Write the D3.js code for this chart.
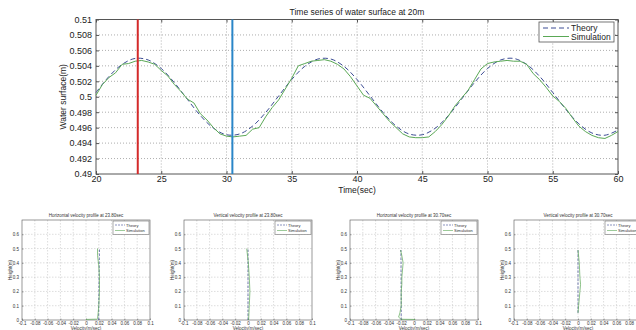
<!DOCTYPE html>
<html>
<head>
<meta charset="UTF-8">
<title>Water surface</title>
<script src="https://d3js.org/d3.v7.min.js"></script>
<style>
  body { margin: 0; background: #fff; }
  svg { display: block; font-family: "Liberation Sans", Arial, sans-serif; }
</style>
</head>
<body>
<svg width="636" height="330"></svg>
<script>
  // time series
  const theoryTime = d3.range(20, 61)
  const theoryEta = [0.50055, 0.50263, 0.50419, 0.50496, 0.50476, 0.50365, 0.50183, 0.49967, 0.49756, 0.49593,
    0.49508, 0.49518, 0.49620, 0.49796, 0.50011, 0.50224, 0.50394, 0.50488, 0.50488, 0.50394,
    0.50224, 0.50011, 0.49796, 0.49620, 0.49518, 0.49508, 0.49593, 0.49756, 0.49967, 0.50183,
    0.50365, 0.50476, 0.50496, 0.50419, 0.50263, 0.50055, 0.49837, 0.49650, 0.49531, 0.49502, 0.49569]

  const simTime = d3.range(20, 60.01, 0.5)
  const simEta = [0.5002, 0.5016, 0.5025, 0.5031, 0.5042, 0.5043, 0.5046, 0.5047, 0.5045, 0.5042,
    0.5034, 0.5027, 0.5016, 0.5007, 0.4997, 0.4992, 0.4978, 0.4970, 0.4960, 0.4952,
    0.4949, 0.4948, 0.4949, 0.4950, 0.4958, 0.4960, 0.4974, 0.4986, 0.4996, 0.5010,
    0.5024, 0.5040, 0.5043, 0.5046, 0.5047, 0.5048, 0.5046, 0.5042, 0.5036, 0.5026,
    0.5014, 0.5002, 0.4998, 0.4988, 0.4978, 0.4968, 0.4960, 0.4952, 0.4948, 0.4947,
    0.4947, 0.4948, 0.4955, 0.4964, 0.4975, 0.4988, 0.4998, 0.5008, 0.5022, 0.5036,
    0.5043, 0.5045, 0.5046, 0.5047, 0.5046, 0.5046, 0.5042, 0.5030, 0.5022, 0.5012,
    0.5001, 0.4994, 0.4985, 0.4973, 0.4962, 0.4955, 0.4950, 0.4947, 0.4946, 0.4950, 0.4955]

  const markTimes = [23.2, 30.45]
  const markColors = ['#d42a2a', '#2a86c8']
  const xTicks = [20, 25, 30, 35, 40, 45, 50, 55, 60]
  const yTicks = d3.range(0.49, 0.5101, 0.002)

  // velocity profiles
  const profileTitles = ['Horizontal velocity profile at 23.80sec', 'Vertical velocity profile at 23.80sec',
    'Horizontal velocity profile at 30.70sec', 'Vertical velocity profile at 30.70sec']
  const theoryZ = [
    [0, 0.1, 0.2, 0.3, 0.4, 0.5],
    [0, 0.1, 0.2, 0.3, 0.4, 0.5],
    [0, 0.1, 0.2, 0.3, 0.4, 0.49],
    [0.05, 0.1, 0.2, 0.3, 0.4, 0.49]
  ]
  const theoryVel = [
    [0.0198, 0.0200, 0.0202, 0.0204, 0.0207, 0.0211],
    [0, 0, 0, 0, 0, 0],
    [-0.0200, -0.0200, -0.0201, -0.0202, -0.0203, -0.0205],
    [0, 0, 0, 0, 0, 0]
  ]
  const simZ = [
    [0.004, 0.006, 0.01, 0.05, 0.1, 0.2, 0.3, 0.38, 0.45, 0.5],
    [0, 0.1, 0.2, 0.3, 0.4, 0.5],
    [0.004, 0.005, 0.02, 0.05, 0.1, 0.2, 0.25, 0.3, 0.35, 0.4, 0.45, 0.49],
    [0.05, 0.1, 0.2, 0.25, 0.3, 0.4, 0.49]
  ]
  const simVel = [
    [0.0, 0.017, 0.018, 0.019, 0.020, 0.021, 0.021, 0.020, 0.018, 0.018],
    [0.001, 0.002, 0.003, 0.002, 0.0005, -0.002],
    [0.002, -0.020, -0.024, -0.022, -0.020, -0.020, -0.019, -0.019, -0.018, -0.017, -0.019, -0.021],
    [0, 0.001, 0.003, 0.004, 0.003, 0.002, 0]
  ]
  const velTicks = [-0.1, -0.08, -0.06, -0.04, -0.02, 0, 0.02, 0.04, 0.06, 0.08, 0.1]
  const zTicks = [0, 0.1, 0.2, 0.3, 0.4, 0.5, 0.6]

  const theoryColor = '#3c4c94'
  const simColor = '#5aa855'
  const boxColor = '#555'
  const gridColor = '#999'

  const svg = d3.select('svg')

  // ---------- main chart ----------
  const m = { left: 96, right: 618, top: 19.5, bottom: 174 }
  const x = d3.scaleLinear().domain([20, 60]).range([m.left, m.right])
  const y = d3.scaleLinear().domain([0.49, 0.51]).range([m.bottom, m.top])

  const main = svg.append('g')

  // grid
  main.append('g').selectAll('line')
    .data(xTicks.slice(1, -1))
    .join('line')
    .attr('x1', d => x(d)).attr('x2', d => x(d))
    .attr('y1', m.top).attr('y2', m.bottom)
    .attr('stroke', gridColor).attr('stroke-width', 0.8).attr('stroke-dasharray', '1,2')
  main.append('g').selectAll('line')
    .data(yTicks.slice(1, -1))
    .join('line')
    .attr('x1', m.left).attr('x2', m.right)
    .attr('y1', d => y(d)).attr('y2', d => y(d))
    .attr('stroke', gridColor).attr('stroke-width', 0.8).attr('stroke-dasharray', '1,2')

  // axes
  main.append('g')
    .attr('transform', `translate(0,${m.bottom})`)
    .call(d3.axisBottom(x).tickValues(xTicks).tickSize(-3).tickPadding(2).tickFormat(d3.format('d')))
  main.append('g')
    .attr('transform', `translate(${m.left},0)`)
    .call(d3.axisLeft(y).tickValues(yTicks).tickSize(-3).tickPadding(4).tickFormat(d => +d.toFixed(3)))
  main.append('g')
    .attr('transform', `translate(${m.right},0)`)
    .call(d3.axisRight(y).tickValues(yTicks).tickSize(-3).tickFormat(''))
  main.append('g')
    .attr('transform', `translate(0,${m.top})`)
    .call(d3.axisTop(x).tickValues(xTicks).tickSize(-3).tickFormat(''))
  main.selectAll('.domain').remove()
  main.selectAll('.tick line').attr('stroke', boxColor)
  main.selectAll('.tick text').attr('font-size', 9).attr('fill', '#222')
  main.append('rect')
    .attr('x', m.left).attr('y', m.top)
    .attr('width', m.right - m.left).attr('height', m.bottom - m.top)
    .attr('fill', 'none').attr('stroke', boxColor).attr('stroke-width', 1)

  // curves
  main.append('path')
    .attr('d', d3.line().x(d => x(d[0])).y(d => y(d[1])).curve(d3.curveCatmullRom)(theoryTime.map((t, i) => [t, theoryEta[i]])))
    .attr('fill', 'none').attr('stroke', theoryColor).attr('stroke-width', 1)
    .attr('stroke-dasharray', '5,3')
  main.append('path')
    .attr('d', d3.line().x(d => x(d[0])).y(d => y(d[1]))(simTime.map((t, i) => [t, simEta[i]])))
    .attr('fill', 'none').attr('stroke', simColor).attr('stroke-width', 1)

  // marker lines
  main.append('g').selectAll('line')
    .data(markTimes)
    .join('line')
    .attr('x1', d => x(d)).attr('x2', d => x(d))
    .attr('y1', m.top).attr('y2', m.bottom)
    .attr('stroke', (d, i) => markColors[i]).attr('stroke-width', 2)

  // texts
  main.append('text')
    .attr('x', (m.left + m.right) / 2).attr('y', 15)
    .attr('text-anchor', 'middle').attr('font-size', 8.5).attr('fill', '#222')
    .text('Time series of water surface at 20m')
  main.append('text')
    .attr('x', (m.left + m.right) / 2).attr('y', 193)
    .attr('text-anchor', 'middle').attr('font-size', 8.5).attr('fill', '#222')
    .text('Time(sec)')
  main.append('text')
    .attr('transform', `translate(66,${(m.top + m.bottom) / 2}) rotate(-90)`)
    .attr('text-anchor', 'middle').attr('font-size', 8.5).attr('fill', '#222')
    .text('Water surface(m)')

  // legend
  const lg = main.append('g').attr('transform', 'translate(539,22)')
  lg.append('rect').attr('width', 75).attr('height', 20)
    .attr('fill', '#fff').attr('stroke', boxColor).attr('stroke-width', 0.8)
  lg.append('line').attr('x1', 4).attr('x2', 30).attr('y1', 6).attr('y2', 6)
    .attr('stroke', theoryColor).attr('stroke-dasharray', '5,3')
  lg.append('line').attr('x1', 4).attr('x2', 30).attr('y1', 14.5).attr('y2', 14.5)
    .attr('stroke', simColor)
  lg.append('text').attr('x', 32).attr('y', 9).attr('font-size', 8.5).attr('fill', '#222').text('Theory')
  lg.append('text').attr('x', 32).attr('y', 17.5).attr('font-size', 8.5).attr('fill', '#222').text('Simulation')

  // ---------- profile panels ----------
  const panelLeft = [22, 184, 350, 514]
  const pw = 128
  const pTop = 220
  const pBottom = 320

  panelLeft.forEach((left, k) => {
    const px = d3.scaleLinear().domain([-0.1, 0.1]).range([left, left + pw])
    const py = d3.scaleLinear().domain([0, 0.7]).range([pBottom, pTop])
    const g = svg.append('g')

    g.append('g').selectAll('line')
      .data(velTicks.slice(1, -1))
      .join('line')
      .attr('x1', d => px(d)).attr('x2', d => px(d))
      .attr('y1', pTop).attr('y2', pBottom)
      .attr('stroke', '#bbb').attr('stroke-width', 0.5).attr('stroke-dasharray', '1.5,1.5')
    g.append('g').selectAll('line')
      .data(zTicks.slice(1))
      .join('line')
      .attr('x1', left).attr('x2', left + pw)
      .attr('y1', d => py(d)).attr('y2', d => py(d))
      .attr('stroke', '#bbb').attr('stroke-width', 0.5).attr('stroke-dasharray', '1.5,1.5')

    g.append('g')
      .attr('transform', `translate(0,${pBottom})`)
      .call(d3.axisBottom(px).tickValues(velTicks).tickSize(-1.5).tickPadding(2).tickFormat(d => +d.toFixed(2)))
    g.append('g')
      .attr('transform', `translate(${left},0)`)
      .call(d3.axisLeft(py).tickValues(zTicks).tickSize(-1.5).tickPadding(3).tickFormat(d => +d.toFixed(1)))
    g.selectAll('.domain').remove()
    g.selectAll('.tick line').attr('stroke', boxColor).attr('stroke-width', 0.5)
    g.selectAll('.tick text').attr('font-size', 4.5).attr('fill', '#333')
    g.append('rect')
      .attr('x', left).attr('y', pTop).attr('width', pw).attr('height', pBottom - pTop)
      .attr('fill', 'none').attr('stroke', boxColor).attr('stroke-width', 0.6)

    const pl = d3.line().x(d => px(d[0])).y(d => py(d[1]))
    g.append('path')
      .attr('d', pl(theoryVel[k].map((v, i) => [v, theoryZ[k][i]])))
      .attr('fill', 'none').attr('stroke', theoryColor).attr('stroke-width', 0.7)
      .attr('stroke-dasharray', '2.5,1.5')
    g.append('path')
      .attr('d', pl(simVel[k].map((v, i) => [v, simZ[k][i]])))
      .attr('fill', 'none').attr('stroke', simColor).attr('stroke-width', 0.7)

    g.append('text')
      .attr('x', left + pw / 2).attr('y', pTop - 3)
      .attr('text-anchor', 'middle').attr('font-size', 4.5).attr('fill', '#333')
      .text(profileTitles[k])
    g.append('text')
      .attr('x', left + pw / 2).attr('y', pBottom + 10)
      .attr('text-anchor', 'middle').attr('font-size', 4.5).attr('fill', '#333')
      .text('Velocity(m/sec)')
    g.append('text')
      .attr('transform', `translate(${left - 10},${py(0.35)}) rotate(-90)`)
      .attr('text-anchor', 'middle').attr('font-size', 4.5).attr('fill', '#333')
      .text('Height(m)')

    const pg = g.append('g').attr('transform', `translate(${left + pw - 37},${pTop + 1})`)
    pg.append('rect').attr('width', 36).attr('height', 13.5)
      .attr('fill', '#fff').attr('stroke', boxColor).attr('stroke-width', 0.5)
    pg.append('line').attr('x1', 2).attr('x2', 12).attr('y1', 4).attr('y2', 4)
      .attr('stroke', theoryColor).attr('stroke-width', 0.6).attr('stroke-dasharray', '2,1')
    pg.append('line').attr('x1', 2).attr('x2', 12).attr('y1', 9.5).attr('y2', 9.5)
      .attr('stroke', simColor).attr('stroke-width', 0.6)
    pg.append('text').attr('x', 13).attr('y', 5.5).attr('font-size', 4).attr('fill', '#333').text('Theory')
    pg.append('text').attr('x', 13).attr('y', 11).attr('font-size', 4).attr('fill', '#333').text('Simulation')
  })
</script>
</body>
</html>
